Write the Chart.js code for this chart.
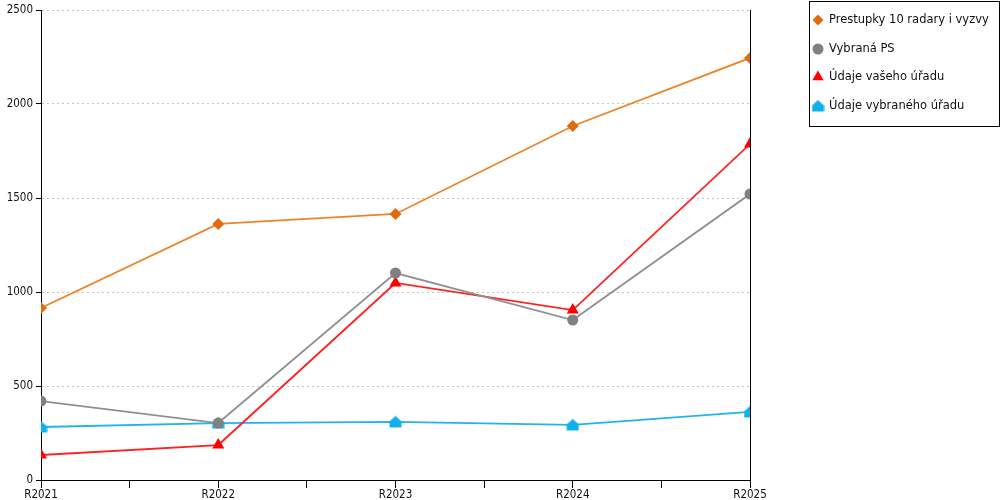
<!DOCTYPE html>
<html>
<head>
<meta charset="utf-8">
<script src="https://cdn.jsdelivr.net/npm/chart.js@4"></script>
<style>
  html, body { margin: 0; padding: 0; background: #fff; }
  #wrap { width: 1000px; height: 500px; }
</style>
</head>
<body>
<div id="wrap"><canvas id="chart" width="1000" height="500"></canvas></div>
<script>
const labels = ['R2021', 'R2022', 'R2023', 'R2024', 'R2025'];
const prestupky = [915, 1362, 1415, 1883, 2245];
const vybranaPS = [420, 303, 1101, 851, 1521];
const vasUrad = [133, 186, 1048, 904, 1787];
const vybranyUrad = [282, 303, 309, 293, 362];
const yTicks = [0, 500, 1000, 1500, 2000, 2500];

const seriesNames = ['Prestupky 10 radary i vyzvy', 'Vybraná PS', 'Údaje vašeho úřadu', 'Údaje vybraného úřadu'];

// house-shaped marker for the last series
function houseMarker(color) {
  const c = document.createElement('canvas');
  c.width = 13; c.height = 13;
  const g = c.getContext('2d');
  g.fillStyle = color;
  g.beginPath();
  g.moveTo(0.5, 12);
  g.lineTo(12.5, 12);
  g.lineTo(12.5, 6);
  g.lineTo(6.5, 0.5);
  g.lineTo(0.5, 6);
  g.closePath();
  g.fill();
  return c;
}

const house = houseMarker('#10b0ec');

function toPoints(arr) {
  return arr.map((v, i) => ({ x: i, y: v }));
}

const datasets = [
  { label: seriesNames[0], data: toPoints(prestupky), borderColor: '#ee8428', backgroundColor: '#e06c10',
    pointStyle: 'rectRot', pointRadius: 6 },
  { label: seriesNames[1], data: toPoints(vybranaPS), borderColor: '#909090', backgroundColor: '#808080',
    pointStyle: 'circle', pointRadius: 5.5 },
  { label: seriesNames[2], data: toPoints(vasUrad), borderColor: '#ff2020', backgroundColor: '#ff0000',
    pointStyle: 'triangle', pointRadius: 7 },
  { label: seriesNames[3], data: toPoints(vybranyUrad), borderColor: '#20b4ec', backgroundColor: '#10b0ec',
    pointStyle: house, pointRadius: 6 }
];
datasets.forEach(d => {
  d.borderWidth = 1.8;
  d.pointBorderWidth = 0;
  d.pointBorderColor = d.backgroundColor;
  d.tension = 0;
});

const extras = {
  id: 'extras',
  afterDraw(chart) {
    const ctx = chart.ctx;
    const a = chart.chartArea;
    ctx.save();
    // right frame line
    ctx.strokeStyle = '#000';
    ctx.lineWidth = 1;
    ctx.beginPath();
    ctx.moveTo(Math.round(a.right) + 0.5, 10);
    ctx.lineTo(Math.round(a.right) + 0.5, a.bottom);
    ctx.stroke();

    // legend box
    ctx.strokeRect(809.5, 1.5, 190, 125);
    ctx.font = '11.5px "DejaVu Sans"';
    ctx.textBaseline = 'middle';
    const rows = [20, 49, 77, 106];
    chart.data.datasets.forEach((d, i) => {
      const y = rows[i];
      ctx.fillStyle = d.backgroundColor;
      Chart.helpers.drawPoint(ctx, {
        pointStyle: d.pointStyle,
        radius: i === 2 ? 6.5 : 5.5,
        borderWidth: 0,
        rotation: 0
      }, 818, y);
      ctx.fillStyle = '#111';
      ctx.fillText(d.label, 829, y);
    });
    ctx.restore();
  }
};

new Chart(document.getElementById('chart'), {
  type: 'line',
  data: { datasets },
  options: {
    responsive: false,
    animation: false,
    layout: { padding: { top: 10, right: 250, left: 0, bottom: 0 } },
    plugins: { legend: { display: false }, tooltip: { enabled: false } },
    scales: {
      x: {
        type: 'linear',
        min: 0,
        max: labels.length - 1,
        afterBuildTicks(scale) {
          const t = [];
          for (let v = 0; v <= labels.length - 1; v += 0.5) t.push({ value: v });
          scale.ticks = t;
        },
        afterFit(scale) { scale.height = 20; },
        grid: { drawOnChartArea: false, color: '#000', tickLength: 8 },
        border: { color: '#000', width: 1 },
        ticks: {
          autoSkip: false,
          maxRotation: 0,
          padding: 0,
          color: '#111',
          font: { family: 'DejaVu Sans Condensed', size: 11.5 },
          callback: v => Number.isInteger(v) ? labels[v] : ''
        }
      },
      y: {
        min: 0,
        max: 2500,
        afterBuildTicks(scale) { scale.ticks = yTicks.map(v => ({ value: v })); },
        afterFit(scale) { scale.width = 41; },
        grid: { color: '#c4c4c4', tickColor: '#000', tickLength: 5, tickBorderDash: [] },
        border: { color: '#000', width: 1, dash: [2, 3] },
        ticks: {
          padding: 3,
          color: '#111',
          font: { family: 'DejaVu Sans Condensed', size: 11.5 },
          callback: v => String(v)
        }
      }
    }
  },
  plugins: [extras]
});
</script>
</body>
</html>
